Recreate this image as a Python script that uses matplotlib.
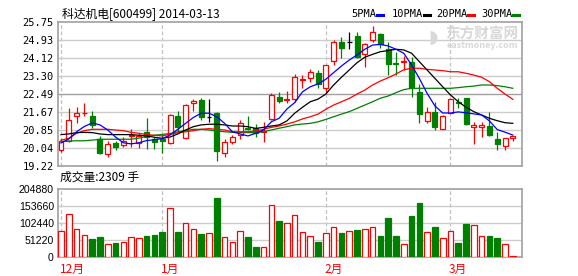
import matplotlib
matplotlib.use("Agg")
import matplotlib.pyplot as plt
import numpy as np

plt.rcParams['font.family'] = ['Noto Sans CJK SC', 'DejaVu Sans']

# daily OHLC, 2013-12 .. 2014-03-13
opens = [19.93, 20.35, 21.49, 21.61, 21.49, 20.42, 19.74, 20.23, 20.14, 20.57,
         20.26, 20.74, 20.42, 20.42, 20.23, 21.47, 20.46, 22.05, 22.20, 21.44,
         21.60, 19.81, 20.31, 20.61, 20.95, 20.93, 20.75, 21.32, 22.32, 22.22,
         22.23, 23.09, 23.18, 23.41, 22.76, 23.98, 24.82, 24.83, 25.10, 24.27,
         24.92, 25.18, 24.51, 23.88, 23.90, 23.94, 22.55, 21.25, 21.64, 20.90,
         21.62, 22.11, 22.28, 20.96, 20.96, 21.02, 20.43, 20.11, 20.46]
highs = [20.42, 21.82, 21.87, 22.05, 21.70, 20.57, 20.36, 20.36, 20.51, 20.87,
         20.72, 21.37, 20.54, 20.61, 21.56, 21.71, 22.02, 22.23, 22.28, 22.24,
         21.64, 20.43, 20.61, 21.29, 21.47, 21.11, 21.21, 22.53, 22.56, 22.61,
         23.38, 23.33, 23.59, 23.56, 23.79, 24.92, 25.04, 25.30, 25.30, 24.77,
         25.55, 25.25, 24.84, 24.36, 24.19, 24.14, 22.91, 21.90, 22.12, 21.52,
         22.28, 22.28, 22.30, 21.21, 21.21, 21.67, 20.73, 20.46, 20.57]
lows = [19.83, 20.31, 21.14, 21.47, 20.92, 19.75, 19.60, 19.93, 20.05, 20.07,
        20.01, 19.96, 19.96, 19.78, 20.19, 20.72, 20.42, 21.71, 21.29, 21.21,
        19.45, 19.62, 20.19, 20.42, 20.84, 20.54, 20.31, 21.29, 22.05, 22.08,
        22.12, 22.73, 23.03, 22.76, 22.50, 23.79, 24.12, 24.50, 24.09, 23.71,
        24.85, 24.54, 23.33, 23.33, 23.56, 22.32, 21.14, 21.14, 20.84, 20.87,
        21.60, 21.82, 21.07, 20.19, 20.54, 20.57, 19.93, 19.93, 20.34]
closes = [20.34, 21.29, 21.60, 21.63, 21.07, 19.79, 20.20, 20.07, 20.32, 20.61,
          20.57, 20.54, 20.28, 20.32, 21.52, 20.96, 21.96, 22.15, 21.44, 21.44,
          19.90, 20.28, 20.51, 21.14, 20.89, 20.69, 20.78, 22.43, 22.17, 22.24,
          23.23, 23.14, 23.45, 22.91, 23.77, 24.82, 24.57, 24.83, 24.16, 24.72,
          25.27, 24.72, 23.82, 23.85, 23.97, 22.73, 21.55, 21.64, 20.99, 21.47,
          22.23, 22.08, 21.09, 21.07, 21.07, 20.61, 20.20, 20.46, 20.57]

ma5 = [20.25, 20.43, 20.76, 21.00, 21.16, 21.07, 20.84, 20.52, 20.26, 20.21,
       20.26, 20.36, 20.40, 20.45, 20.61, 20.87, 21.14, 21.41, 21.60, 21.60,
       21.44, 21.14, 20.76, 20.66, 20.57, 20.69, 20.84, 21.21, 21.37, 21.79,
       22.08, 22.57, 22.80, 22.93, 23.14, 23.44, 23.74, 24.01, 24.24, 24.50,
       24.69, 24.72, 24.65, 24.50, 24.32, 23.79, 23.18, 22.50, 21.93, 21.61,
       21.61, 21.66, 21.62, 21.57, 21.52, 21.25, 20.86, 20.74, 20.61]
ma10 = [20.63, 20.66, 20.72, 20.73, 20.72, 20.66, 20.63, 20.63, 20.63, 20.63,
        20.60, 20.57, 20.51, 20.46, 20.52, 20.66, 20.84, 20.99, 21.07, 21.10,
        21.10, 21.07, 21.02, 21.02, 20.99, 20.91, 20.96, 21.02, 21.07, 21.25,
        21.60, 21.87, 22.12, 22.24, 22.47, 22.88, 23.23, 23.56, 23.89, 24.14,
        24.27, 24.39, 24.44, 24.50, 24.47, 24.32, 23.94, 23.56, 23.18, 22.80,
        22.43, 22.12, 21.87, 21.67, 21.52, 21.37, 21.26, 21.17, 21.14]
ma20 = [20.38, 20.46, 20.69, 20.81, 20.87, 20.87, 20.87, 20.84, 20.81, 20.73,
        20.69, 20.63, 20.60, 20.57, 20.65, 20.71, 20.76, 20.81, 20.87, 20.90,
        20.87, 20.84, 20.76, 20.76, 20.76, 20.79, 20.87, 20.96, 21.02, 21.11,
        21.21, 21.34, 21.44, 21.56, 21.78, 21.97, 22.12, 22.27, 22.47, 22.65,
        22.88, 23.06, 23.21, 23.38, 23.57, 23.64, 23.64, 23.59, 23.56, 23.53,
        23.48, 23.48, 23.41, 23.33, 23.23, 23.03, 22.73, 22.47, 22.23]
ma30 = [20.31, 20.34, 20.35, 20.35, 20.38, 20.42, 20.42, 20.42, 20.42, 20.42,
        20.47, 20.55, 20.60, 20.64, 20.68, 20.76, 20.81, 20.87, 20.87, 20.84,
        20.79, 20.76, 20.73, 20.73, 20.72, 20.72, 20.76, 20.84, 20.92, 20.99,
        21.07, 21.11, 21.14, 21.21, 21.32, 21.44, 21.56, 21.67, 21.82, 21.97,
        22.12, 22.28, 22.38, 22.53, 22.67, 22.73, 22.73, 22.73, 22.73, 22.73,
        22.73, 22.76, 22.80, 22.83, 22.88, 22.88, 22.85, 22.80, 22.73]

volume = [78000, 129700, 83100, 64800, 53700, 59800, 38500, 42500, 44600, 58800,
          56700, 62800, 65800, 75000, 146900, 75000, 101300, 83100, 68900, 71900,
          178300, 58800, 44600, 77000, 59800, 29400, 29400, 156000, 108400, 101300,
          126600, 75000, 62800, 45600, 70900, 89100, 72900, 77000, 81000, 83100,
          89100, 62800, 117500, 62800, 38500, 123600, 163100, 75000, 90200, 55700,
          78000, 41500, 99300, 95200, 62800, 62800, 56700, 38500, 2309]

price_ticks = [25.75, 24.93, 24.12, 23.30, 22.49, 21.67, 20.85, 20.04, 19.22]
vol_ticks = [0, 51220, 102440, 153660, 204880]
month_labels = ["12月", "1月", "2月", "3月"]
month_starts = [0, 13, 34, 50]

RED = "#FF0000"
GREEN = "#008000"
GRID = "#CCCCCC"
FRAME = "#A0A0A0"

o = np.array(opens); h = np.array(highs); l = np.array(lows); c = np.array(closes)
v = np.array(volume)
x = np.arange(len(c))
up = c > o
down = c < o
flat = c == o

W, H = 578, 276
fig = plt.figure(figsize=(W / 100, H / 100), dpi=100)
ax = fig.add_axes([58 / W, 1 - 165.7 / H, 464 / W, 144 / H])
axv = fig.add_axes([58 / W, 1 - 256.7 / H, 464 / W, 67.4 / H])

for a in (ax, axv):
    a.set_xlim(-0.385, 59.18)
    for s in a.spines.values():
        s.set_color(FRAME)
        s.set_linewidth(1.2)
    a.tick_params(length=0, pad=3)
    a.set_xticks([])
    for m in month_starts:
        a.axvline(m, color="#C0C0C0", lw=0.9, ls=(0, (3, 2)), zorder=0)

# price panel
ax.set_ylim(19.22, 25.75)
ax.set_yticks(price_ticks)
ax.set_yticklabels([f"{t:.2f}" for t in price_ticks], family="DejaVu Sans Mono", fontsize=7.5)
for t in price_ticks[1:-1]:
    ax.axhline(t, color=FRAME if t == 22.49 else GRID, lw=1.0, zorder=0)

wick_cols = np.where(up, RED, np.where(down, GREEN, "black"))
ax.vlines(x, l, h, colors=wick_cols, lw=0.9, zorder=2)
bw = 0.64
ax.bar(x[up], (c - o)[up], bottom=o[up], width=bw, facecolor="white",
       edgecolor=RED, lw=0.9, zorder=3)
ax.bar(x[down], (o - c)[down], bottom=c[down], width=bw, facecolor=GREEN,
       edgecolor=GREEN, lw=0.9, zorder=3)
ax.hlines(c[flat], x[flat] - bw / 2, x[flat] + bw / 2, colors="black", lw=0.9, zorder=3)

ax.plot(x, ma30, color=GREEN, lw=0.9, zorder=4)
ax.plot(x, ma20, color=RED, lw=0.9, zorder=4)
ax.plot(x, ma10, color="black", lw=0.9, zorder=4)
ax.plot(x, ma5, color="#0000FF", lw=0.9, zorder=4)

# volume panel
axv.set_ylim(0, 204880)
axv.set_yticks(vol_ticks)
axv.set_yticklabels([str(t) for t in vol_ticks], family="Liberation Sans", fontsize=7.6)
for t in vol_ticks[1:-1]:
    axv.axhline(t, color=GRID, lw=1.0, zorder=0)
vup = c >= o
axv.bar(x[vup], v[vup], width=0.72, facecolor="white", edgecolor=RED, lw=0.9, zorder=3)
axv.bar(x[~vup], v[~vup], width=0.72, facecolor=GREEN, edgecolor=GREEN, lw=0.9, zorder=3)

for m, lab in zip(month_starts, month_labels):
    axv.text(m - 0.2, -0.09, lab, transform=axv.get_xaxis_transform(), color=RED,
             fontsize=8.5, ha="left", va="top")

# texts
fig.text(62 / W, 1 - 13.5 / H, "科达机电[600499] 2014-03-13", fontsize=8.5,
         ha="left", va="center", color="black")
fig.text(60 / W, 1 - 177.5 / H, "成交量:2309 手", fontsize=8.5,
         ha="left", va="center", color="black")

legend = [("5PMA", "#0000FF", 351), ("10PMA", "black", 392),
          ("20PMA", RED, 436), ("30PMA", GREEN, 481)]
widths = {"5PMA": 24, "10PMA": 30, "20PMA": 30, "30PMA": 30}
for lab, col, px in legend:
    fig.text(px / W, 1 - 14 / H, lab, family="DejaVu Sans Mono", fontsize=7.5,
             ha="left", va="center", color="black")
    x0 = px + widths[lab] + 2
    fig.add_artist(plt.Line2D([x0 / W, (x0 + 6) / W], [1 - 14.5 / H] * 2,
                              color=col, lw=2.2, transform=fig.transFigure))

# watermark
fig.text(482 / W, 1 - 34 / H, "东方财富网", fontsize=10.5, fontweight="bold",
         color="#D8D8D8", ha="center", va="center", zorder=1)
fig.text(482 / W, 1 - 46 / H, "eastmoney.com", fontsize=6.5, fontweight="bold",
         color="#D8D8D8", ha="center", va="center", zorder=1)
fig.text(433 / W, 1 - 38 / H, "◗", fontsize=13, color="#D8D8D8",
         family="DejaVu Sans", ha="center", va="center", zorder=1)

fig.savefig("out.png", dpi=100)
